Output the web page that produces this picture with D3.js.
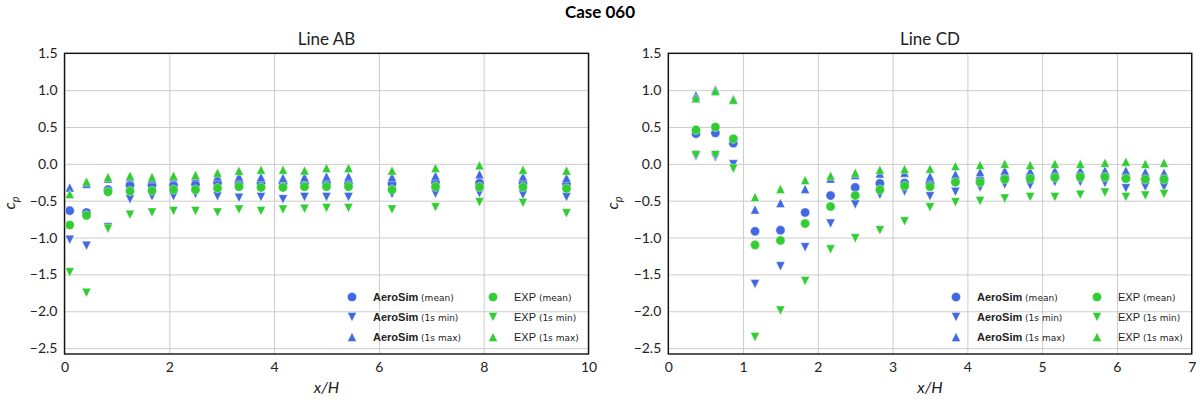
<!DOCTYPE html>
<html><head><meta charset="utf-8">
<script src="https://cdn.jsdelivr.net/npm/d3@7"></script>
<style>body{margin:0;background:#fff}svg{display:block}</style>
</head><body>
<svg id="c" width="1200" height="400"></svg>
<script>
// ---- Data: Line AB ----
const xAB = [0.1,0.42,0.83,1.25,1.67,2.08,2.5,2.92,3.33,3.75,4.17,4.58,5.0,5.42,6.25,7.08,7.92,8.75,9.58];
const abSimMean = [-0.635,-0.66,-0.35,-0.29,-0.29,-0.29,-0.28,-0.26,-0.27,-0.265,-0.265,-0.265,-0.26,-0.27,-0.27,-0.25,-0.26,-0.265,-0.27];
const abSimMin  = [-1.03,-1.11,-0.86,-0.48,-0.44,-0.44,-0.41,-0.44,-0.46,-0.45,-0.48,-0.45,-0.45,-0.45,-0.41,-0.405,-0.40,-0.42,-0.45];
const abSimMax  = [-0.32,-0.27,-0.2,-0.18,-0.2,-0.18,-0.17,-0.17,-0.17,-0.18,-0.19,-0.18,-0.17,-0.17,-0.18,-0.16,-0.14,-0.17,-0.19];
const abExpMean = [-0.83,-0.70,-0.38,-0.37,-0.365,-0.35,-0.35,-0.33,-0.31,-0.32,-0.32,-0.31,-0.31,-0.31,-0.35,-0.31,-0.315,-0.315,-0.335];
const abExpMin  = [-1.47,-1.75,-0.88,-0.69,-0.66,-0.64,-0.64,-0.66,-0.62,-0.64,-0.62,-0.61,-0.60,-0.60,-0.62,-0.59,-0.52,-0.53,-0.67];
const abExpMax  = [-0.41,-0.24,-0.18,-0.16,-0.18,-0.16,-0.15,-0.12,-0.095,-0.08,-0.08,-0.09,-0.055,-0.055,-0.09,-0.055,-0.02,-0.08,-0.09];

// ---- Data: Line CD ----
const xCD = [0.37,0.63,0.87,1.16,1.5,1.83,2.17,2.5,2.83,3.16,3.5,3.84,4.17,4.5,4.84,5.17,5.51,5.84,6.12,6.38,6.63];
const cdSimMean = [0.41,0.42,0.28,-0.915,-0.90,-0.66,-0.43,-0.32,-0.265,-0.26,-0.265,-0.24,-0.22,-0.19,-0.17,-0.17,-0.15,-0.16,-0.20,-0.21,-0.21];
const cdSimMin  = [0.10,0.09,-0.005,-1.63,-1.39,-1.13,-0.81,-0.55,-0.42,-0.375,-0.44,-0.38,-0.32,-0.28,-0.29,-0.245,-0.245,-0.26,-0.33,-0.31,-0.31];
const cdSimMax  = [0.93,1.01,0.88,-0.62,-0.53,-0.34,-0.20,-0.15,-0.13,-0.12,-0.17,-0.14,-0.11,-0.09,-0.10,-0.09,-0.09,-0.09,-0.09,-0.11,-0.12];
const cdExpMean = [0.46,0.50,0.34,-1.10,-1.04,-0.81,-0.58,-0.43,-0.35,-0.30,-0.31,-0.25,-0.25,-0.21,-0.20,-0.185,-0.18,-0.18,-0.20,-0.21,-0.21];
const cdExpMin  = [0.12,0.12,-0.065,-2.35,-1.99,-1.59,-1.16,-1.01,-0.90,-0.78,-0.59,-0.52,-0.505,-0.47,-0.45,-0.45,-0.42,-0.39,-0.45,-0.43,-0.41];
const cdExpMax  = [0.89,0.99,0.87,-0.45,-0.34,-0.22,-0.16,-0.12,-0.08,-0.07,-0.065,-0.03,-0.015,0.0,-0.015,0.0,0.0,0.015,0.03,0.0,0.015];

const yTicks = [1.5,1.0,0.5,0.0,-0.5,-1.0,-1.5,-2.0,-2.5];
const xTicksAB = [0,2,4,6,8,10];
const xTicksCD = [0,1,2,3,4,5,6,7];
const legendItems = [
  {name:"AeroSim", sub:"(mean)", color:"#4169e1", shape:"circle", bold:true},
  {name:"AeroSim", sub:"(1s min)", color:"#4169e1", shape:"down", bold:true},
  {name:"AeroSim", sub:"(1s max)", color:"#4169e1", shape:"up", bold:true},
  {name:"EXP", sub:"(mean)", color:"#32cd32", shape:"circle", bold:false},
  {name:"EXP", sub:"(1s min)", color:"#32cd32", shape:"down", bold:false},
  {name:"EXP", sub:"(1s max)", color:"#32cd32", shape:"up", bold:false}
];

const BLUE = "#4169e1", GREEN = "#32cd32";
const FONT = "Lato, 'Open Sans', sans-serif";
const svg = d3.select("#c");

svg.append("text").attr("x", 600).attr("y", 18).attr("text-anchor","middle")
  .style("font-family", FONT).style("font-weight","bold").style("font-size","17px").text("Case 060");

function tri(s, up) {
  const h = s/2;
  return up ? `M0,${-h}L${h},${h}L${-h},${h}Z` : `M0,${h}L${h},${-h}L${-h},${-h}Z`;
}
function drawMarker(g, shape, color, x, y) {
  if (shape === "circle") {
    g.append("circle").attr("cx", x).attr("cy", y).attr("r", 4.6)
      .attr("fill", color).attr("stroke","#fff").attr("stroke-width",0.4);
  } else {
    g.append("path").attr("d", tri(9, shape === "up"))
      .attr("transform", `translate(${x},${y})`)
      .attr("fill", color).attr("stroke","#fff").attr("stroke-width",0.4);
  }
}

function panel(cfg) {
  const x = d3.scaleLinear().domain(cfg.xDomain).range([cfg.left, cfg.right]);
  const y = d3.scaleLinear().domain([-2.58, 1.5]).range([354, 53.3]);
  const g = svg.append("g");
  // grid
  g.append("g").attr("transform", "translate(0,354)")
    .call(d3.axisBottom(x).tickValues(cfg.xTicks).tickSize(-(354-53.3)).tickFormat(d3.format("d")).tickPadding(8))
    .call(a => a.select(".domain").remove())
    .call(a => a.selectAll("line").attr("stroke","#cccccc").attr("stroke-width",1))
    .call(a => a.selectAll("text").style("font-family",FONT).style("font-size","14px").attr("fill","#222"));
  g.append("g").attr("transform", `translate(${cfg.left},0)`)
    .call(d3.axisLeft(y).tickValues(yTicks).tickSize(-(cfg.right-cfg.left)).tickFormat(d3.format(".1f")).tickPadding(7))
    .call(a => a.select(".domain").remove())
    .call(a => a.selectAll("line").attr("stroke","#cccccc").attr("stroke-width",1))
    .call(a => a.selectAll("text").style("font-family",FONT).style("font-size","14px").attr("fill","#222"));
  // frame
  g.append("rect").attr("x", cfg.left).attr("y", 53.3).attr("width", cfg.right-cfg.left).attr("height", 354-53.3)
    .attr("fill","none").attr("stroke","#111").attr("stroke-width",1.4);
  // title and labels
  g.append("text").attr("x",(cfg.left+cfg.right)/2).attr("y",45).attr("text-anchor","middle")
    .style("font-family",FONT).style("font-size","17px").attr("fill","#222").text(cfg.title);
  g.append("text").attr("x",(cfg.left+cfg.right)/2).attr("y",393).attr("text-anchor","middle")
    .style("font-family",FONT).style("font-style","italic").style("font-size","16px").attr("fill","#222").text("x/H");
  const yl = g.append("text").attr("transform",`translate(${cfg.left-50},203) rotate(-90)`).attr("text-anchor","middle")
    .style("font-family",FONT).style("font-style","italic").style("font-size","16px").attr("fill","#222");
  yl.append("tspan").text("c");
  yl.append("tspan").attr("dy",4).style("font-size","11px").text("p");
  // data
  const series = [
    [cfg.simMean, BLUE, "circle"], [cfg.simMin, BLUE, "down"], [cfg.simMax, BLUE, "up"],
    [cfg.expMean, GREEN, "circle"], [cfg.expMin, GREEN, "down"], [cfg.expMax, GREEN, "up"]
  ];
  const pts = g.append("g");
  series.forEach(([vals, color, shape]) => {
    vals.forEach((v, i) => drawMarker(pts, shape, color, x(cfg.xs[i]), y(v)));
  });
  // legend
  const lg = g.append("g");
  legendItems.forEach((it, i) => {
    const col = Math.floor(i/3), row = i%3;
    const mx = cfg.legX + col*cfg.legColW, my = 297 + row*20;
    drawMarker(lg, it.shape, it.color, mx, my);
    const t = lg.append("text").attr("x", mx+21).attr("y", my+4)
      .style("font-family","'Liberation Sans', Arial, sans-serif").attr("fill","#222");
    t.append("tspan").style("font-size","11px").style("font-weight", it.bold ? "bold" : "normal").text(it.name);
    t.append("tspan").style("font-family","'DejaVu Sans', sans-serif").style("font-size","9px").text(" " + it.sub);
  });
}

panel({title:"Line AB", xDomain:[0,10], xTicks:xTicksAB, left:64.5, right:588.5, xs:xAB,
  simMean:abSimMean, simMin:abSimMin, simMax:abSimMax, expMean:abExpMean, expMin:abExpMin, expMax:abExpMax,
  legX:352, legColW:141});
panel({title:"Line CD", xDomain:[0,7], xTicks:xTicksCD, left:668.3, right:1191.7, xs:xCD,
  simMean:cdSimMean, simMin:cdSimMin, simMax:cdSimMax, expMean:cdExpMean, expMin:cdExpMin, expMax:cdExpMax,
  legX:956, legColW:141});
</script>
</body></html>
